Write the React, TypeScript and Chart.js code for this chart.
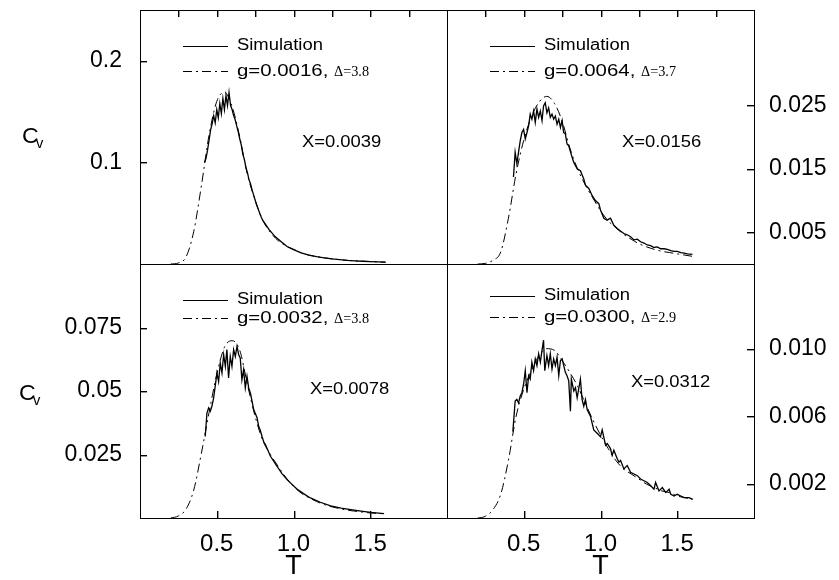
import React, { useEffect, useRef } from "react";
import { Chart, registerables } from "chart.js";

Chart.register(...registerables);
Chart.defaults.font.family = "'Liberation Sans', Arial, Helvetica, sans-serif";

// ---------------- data ----------------
const fitT = [0.2, 0.25, 0.3, 0.35, 0.4, 0.45, 0.5, 0.55, 0.6, 0.65, 0.7, 0.75, 0.8, 0.85, 0.9, 0.95, 1.0, 1.05, 1.1, 1.15, 1.2, 1.25, 1.3, 1.35, 1.4, 1.45, 1.5, 1.55, 1.6];

const fitC1 = [0, 0.001, 0.007, 0.032, 0.077, 0.127, 0.16, 0.169, 0.155, 0.125, 0.088, 0.063, 0.043, 0.031, 0.023, 0.018, 0.0145, 0.011, 0.0088, 0.0073, 0.0061, 0.0051, 0.0043, 0.0036, 0.0031, 0.0027, 0.0024, 0.0021, 0.0018];
const fitC2 = [0, 0.0001, 0.0006, 0.0019, 0.0072, 0.0142, 0.0195, 0.0232, 0.0255, 0.0264, 0.0253, 0.0225, 0.0183, 0.015, 0.0125, 0.0104, 0.0084, 0.0068, 0.0057, 0.0047, 0.0039, 0.0032, 0.0027, 0.0023, 0.002, 0.0018, 0.0016, 0.0014, 0.0012];
const fitC3 = [0, 0.0008, 0.0035, 0.011, 0.0255, 0.0415, 0.0565, 0.0672, 0.0698, 0.066, 0.0525, 0.04, 0.0305, 0.025, 0.0203, 0.016, 0.0125, 0.0098, 0.008, 0.0065, 0.0053, 0.0044, 0.0037, 0.0031, 0.0027, 0.0023, 0.002, 0.0018, 0.0016];
const fitC4 = [0, 0.0001, 0.0005, 0.0014, 0.0034, 0.006, 0.0076, 0.0087, 0.0096, 0.01, 0.0099, 0.0093, 0.0086, 0.0078, 0.0068, 0.0058, 0.0049, 0.0041, 0.0034, 0.0029, 0.0026, 0.0023, 0.002, 0.0018, 0.0016, 0.0015, 0.0013, 0.0012, 0.0011];

const simT1 = [0.42, 0.43, 0.44, 0.45, 0.46, 0.47, 0.48, 0.49, 0.5, 0.51, 0.52, 0.53, 0.54, 0.55, 0.56, 0.57, 0.58, 0.59, 0.6, 0.61, 0.62, 0.63, 0.64, 0.65, 0.66, 0.67, 0.68, 0.69, 0.7, 0.71, 0.72, 0.73, 0.74, 0.75, 0.76, 0.77, 0.78, 0.79, 0.8, 0.84, 0.88, 0.92, 0.96, 1.0, 1.05, 1.1, 1.15, 1.2, 1.25, 1.3, 1.35, 1.4, 1.45, 1.5, 1.55, 1.6];
const simC1 = [0.1, 0.104, 0.112, 0.122, 0.132, 0.138, 0.146, 0.139, 0.152, 0.144, 0.158, 0.148, 0.163, 0.152, 0.166, 0.156, 0.169, 0.156, 0.152, 0.146, 0.142, 0.136, 0.13, 0.123, 0.117, 0.108, 0.103, 0.095, 0.09, 0.083, 0.079, 0.073, 0.068, 0.063, 0.058, 0.054, 0.05, 0.046, 0.043, 0.034, 0.027, 0.022, 0.017, 0.0142, 0.011, 0.0088, 0.0073, 0.0061, 0.0051, 0.0043, 0.0036, 0.0031, 0.0027, 0.0024, 0.0021, 0.0018];

const simT2 = [0.433, 0.444, 0.455, 0.477, 0.488, 0.499, 0.51, 0.521, 0.532, 0.542, 0.553, 0.564, 0.575, 0.586, 0.597, 0.608, 0.619, 0.629, 0.64, 0.651, 0.662, 0.673, 0.684, 0.695, 0.706, 0.717, 0.728, 0.739, 0.75, 0.76, 0.771, 0.782, 0.793, 0.815, 0.826, 0.848, 0.869, 0.891, 0.902, 0.924, 0.945, 0.967, 0.989, 1.0, 1.022, 1.043, 1.065, 1.087, 1.109, 1.13, 1.152, 1.174, 1.196, 1.218, 1.24, 1.261, 1.283, 1.305, 1.327, 1.348, 1.37, 1.392, 1.414, 1.436, 1.458, 1.479, 1.501, 1.523, 1.545, 1.566, 1.599];
const simC2 = [0.0137, 0.0176, 0.0158, 0.0194, 0.0207, 0.0212, 0.0197, 0.0207, 0.0218, 0.0236, 0.0228, 0.0241, 0.0223, 0.0244, 0.0231, 0.0241, 0.0226, 0.0249, 0.0254, 0.0238, 0.0246, 0.0231, 0.0236, 0.0228, 0.0233, 0.022, 0.0228, 0.0215, 0.0226, 0.0207, 0.0205, 0.0189, 0.0186, 0.0168, 0.016, 0.015, 0.0147, 0.0134, 0.0124, 0.0119, 0.0108, 0.01, 0.0095, 0.0085, 0.0072, 0.0069, 0.0072, 0.0061, 0.0056, 0.0052, 0.0048, 0.0046, 0.0043, 0.0038, 0.0039, 0.0035, 0.0033, 0.003, 0.0029, 0.0026, 0.0027, 0.0024, 0.0024, 0.0023, 0.0021, 0.002, 0.002, 0.0018, 0.0017, 0.0016, 0.0015];

const simT3 = [0.425, 0.436, 0.447, 0.458, 0.468, 0.479, 0.49, 0.501, 0.512, 0.523, 0.534, 0.545, 0.556, 0.566, 0.577, 0.588, 0.599, 0.61, 0.621, 0.632, 0.643, 0.653, 0.664, 0.675, 0.686, 0.697, 0.708, 0.719, 0.73, 0.741, 0.752, 0.763, 0.773, 0.784, 0.795, 0.806, 0.817, 0.85, 0.893, 0.925, 0.958, 1.02, 1.065, 1.11, 1.175, 1.242, 1.31, 1.373, 1.44, 1.503, 1.59];
const simC3 = [0.0321, 0.0413, 0.0433, 0.042, 0.0439, 0.047, 0.0518, 0.0571, 0.0537, 0.061, 0.0571, 0.0643, 0.0597, 0.0663, 0.0551, 0.0636, 0.0597, 0.0663, 0.0636, 0.0676, 0.0643, 0.063, 0.0544, 0.0584, 0.0512, 0.0558, 0.0512, 0.0492, 0.046, 0.0426, 0.041, 0.0394, 0.0361, 0.0345, 0.0321, 0.03, 0.0289, 0.0243, 0.0203, 0.0175, 0.0151, 0.0115, 0.0096, 0.0079, 0.0062, 0.0048, 0.0039, 0.0033, 0.0027, 0.0022, 0.0017];

const simT4 = [0.429, 0.444, 0.455, 0.466, 0.477, 0.488, 0.499, 0.51, 0.521, 0.532, 0.542, 0.553, 0.564, 0.575, 0.586, 0.597, 0.608, 0.619, 0.629, 0.637, 0.651, 0.662, 0.673, 0.684, 0.695, 0.706, 0.717, 0.728, 0.739, 0.75, 0.771, 0.782, 0.793, 0.804, 0.81, 0.826, 0.837, 0.848, 0.869, 0.88, 0.891, 0.902, 0.913, 0.935, 0.956, 0.978, 1.0, 1.011, 1.033, 1.044, 1.065, 1.076, 1.087, 1.109, 1.12, 1.131, 1.152, 1.174, 1.196, 1.218, 1.24, 1.261, 1.283, 1.305, 1.327, 1.348, 1.359, 1.381, 1.403, 1.425, 1.447, 1.458, 1.479, 1.5, 1.523, 1.545, 1.577, 1.6];
const simC4 = [0.0051, 0.0069, 0.007, 0.0068, 0.0072, 0.0074, 0.0079, 0.0087, 0.0074, 0.0084, 0.0082, 0.0092, 0.0087, 0.0094, 0.009, 0.0097, 0.0092, 0.0099, 0.0105, 0.0087, 0.0096, 0.009, 0.0097, 0.0088, 0.0094, 0.009, 0.0095, 0.0084, 0.0093, 0.0094, 0.0086, 0.0084, 0.0081, 0.0063, 0.0082, 0.0075, 0.0077, 0.0071, 0.0082, 0.007, 0.0066, 0.007, 0.0064, 0.006, 0.0052, 0.005, 0.0048, 0.0052, 0.0043, 0.0044, 0.0041, 0.0037, 0.004, 0.0035, 0.0033, 0.0034, 0.0029, 0.0031, 0.0027, 0.0026, 0.0025, 0.0023, 0.0022, 0.0021, 0.0019, 0.0017, 0.0021, 0.0016, 0.0018, 0.0015, 0.0017, 0.0014, 0.0013, 0.0014, 0.0013, 0.0012, 0.0012, 0.0011];

const xTicks = [0.5, 1.0, 1.5];
const xTickLabels = ["0.5", "1.0", "1.5"];
const xMinorTicks = [0.25, 0.5, 0.75, 1.0, 1.25, 1.5, 1.75];

const yTicks1 = [0.1, 0.2];
const yLabels1 = ["0.1", "0.2"];
const yTicks2 = [0.005, 0.015, 0.025];
const yLabels2 = ["0.005", "0.015", "0.025"];
const yTicks3 = [0.025, 0.05, 0.075];
const yLabels3 = ["0.025", "0.05", "0.075"];
const yTicks4 = [0.002, 0.006, 0.01];
const yLabels4 = ["0.002", "0.006", "0.010"];

const simLabel = "Simulation";
const fitLabels = ["g=0.0016, ", "g=0.0064, ", "g=0.0032, ", "g=0.0300, "];
const fitDeltas = ["\u0394=3.8", "\u0394=3.7", "\u0394=3.8", "\u0394=2.9"];
const xTexts = ["X=0.0039", "X=0.0156", "X=0.0078", "X=0.0312"];
const xAxisTitle = "T";
const yAxisTitleMain = "C";
const yAxisTitleSub = "v";

// ---------------- layout ----------------
const W = 839;
const H = 580;
const SANS = "'Liberation Sans', Arial, Helvetica, sans-serif";
const SERIF = "'Liberation Serif', 'Times New Roman', serif";
const SX = 1.15;
const TICK = 7;
const TICK_W = 1.4;

type Panel = {
  simT: number[]; simC: number[]; fitC: number[];
  yMax: number; yTicks: number[]; yLabels: string[];
  fitLabel: string; fitDelta: string; xText: string;
  left: boolean; top: boolean;
  area: [number, number, number, number];
  legendDy: [number, number];
  xTextPos: [number, number];
  cv?: [number, number];
};

const panels: Panel[] = [
  { simT: simT1, simC: simC1, fitC: fitC1, yMax: 0.25, yTicks: yTicks1, yLabels: yLabels1, fitLabel: fitLabels[0], fitDelta: fitDeltas[0], xText: xTexts[0], left: true, top: true, area: [140, 10, 447, 264], legendDy: [36, 61], xTextPos: [302, 143], cv: [22, 143] },
  { simT: simT2, simC: simC2, fitC: fitC2, yMax: 0.04, yTicks: yTicks2, yLabels: yLabels2, fitLabel: fitLabels[1], fitDelta: fitDeltas[1], xText: xTexts[1], left: false, top: true, area: [447, 10, 754, 264], legendDy: [36, 61], xTextPos: [622, 143] },
  { simT: simT3, simC: simC3, fitC: fitC3, yMax: 0.1, yTicks: yTicks3, yLabels: yLabels3, fitLabel: fitLabels[2], fitDelta: fitDeltas[2], xText: xTexts[2], left: true, top: false, area: [140, 264, 447, 518], legendDy: [36, 54], xTextPos: [310, 390], cv: [19, 400] },
  { simT: simT4, simC: simC4, fitC: fitC4, yMax: 0.015, yTicks: yTicks4, yLabels: yLabels4, fitLabel: fitLabels[3], fitDelta: fitDeltas[3], xText: xTexts[3], left: false, top: false, area: [447, 264, 754, 518], legendDy: [32, 53], xTextPos: [631, 383] },
];

const DASH_DOT = [9, 4, 2, 4];

function drawText(ctx: CanvasRenderingContext2D, text: string, x: number, y: number, font: string, sx: number, baseline: CanvasTextBaseline = "middle"): number {
  ctx.save();
  ctx.font = font;
  ctx.textBaseline = baseline;
  ctx.textAlign = "left";
  ctx.fillStyle = "#000";
  ctx.translate(x, y);
  ctx.scale(sx, 1);
  ctx.fillText(text, 0, 0);
  const w = ctx.measureText(text).width * sx;
  ctx.restore();
  return w;
}

function zeroPad(s: any) {
  s.paddingLeft = 0;
  s.paddingRight = 0;
  s.paddingTop = 0;
  s.paddingBottom = 0;
}

function makeChart(canvas: HTMLCanvasElement, p: Panel, idx: number) {
  const [l, t, r, b] = p.area;
  const padding = {
    left: p.left ? 0 : l,
    right: p.left ? W - r : 0,
    top: p.top ? 0 : t,
    bottom: p.top ? H - b : 0,
  };
  const yW = p.left ? l : W - r;
  const xH = p.top ? 0 : H - b;
  const x2H = p.top ? t : 0;
  const border = { display: true, color: "#000", width: 1 };
  const noGrid = { display: false, drawTicks: false, drawOnChartArea: false };

  // inward tick marks, positioned by the chart's own scales
  const tickPlugin = {
    id: "inwardTicks" + idx,
    afterDraw(chart: any) {
      const ctx: CanvasRenderingContext2D = chart.ctx;
      const a = chart.chartArea;
      const L = Math.round(a.left);
      const R = Math.round(a.right);
      const T0 = Math.round(a.top);
      const B = Math.round(a.bottom);
      ctx.save();
      ctx.fillStyle = "#000";
      const sx = chart.scales.x;
      const sx2 = chart.scales.x2;
      const sy = chart.scales.y;
      if (!p.top) {
        for (const tk of sx.ticks) {
          const x = Math.round(sx.getPixelForValue(tk.value));
          ctx.fillRect(x, B - TICK, TICK_W, TICK);
        }
      } else {
        for (const tk of sx2.ticks) {
          const x = Math.round(sx2.getPixelForValue(tk.value));
          ctx.fillRect(x, T0, TICK_W, TICK);
        }
      }
      for (const tk of sy.ticks) {
        const y = Math.round(sy.getPixelForValue(tk.value));
        if (p.left) ctx.fillRect(L, y, TICK, TICK_W);
        else ctx.fillRect(R - TICK, y, TICK, TICK_W);
      }
      ctx.restore();
    },
  };

  const textPlugin = {
    id: "panelText" + idx,
    afterDraw(chart: any) {
      const ctx: CanvasRenderingContext2D = chart.ctx;
      const a = chart.chartArea;
      const lx0 = a.left + 43;
      const lx1 = a.left + 88;
      const tx = a.left + 97;
      const y1 = a.top + p.legendDy[0];
      const y2 = a.top + p.legendDy[1];
      ctx.save();
      ctx.strokeStyle = "#000";
      ctx.lineWidth = 1;
      ctx.setLineDash([]);
      ctx.beginPath();
      ctx.moveTo(lx0, y1 + 0.5);
      ctx.lineTo(lx1, y1 + 0.5);
      ctx.stroke();
      ctx.setLineDash(DASH_DOT);
      ctx.beginPath();
      ctx.moveTo(lx0, y2 + 0.5);
      ctx.lineTo(lx1, y2 + 0.5);
      ctx.stroke();
      ctx.restore();
      drawText(ctx, simLabel, tx, y1, `16px ${SANS}`, SX);
      const w = drawText(ctx, p.fitLabel, tx, y2, `17px ${SANS}`, 1.2);
      drawText(ctx, p.fitDelta, tx + w, y2 + 1, `15px ${SERIF}`, 0.95);
      drawText(ctx, p.xText, p.xTextPos[0], p.xTextPos[1], `16px ${SANS}`, SX);
      if (p.cv) {
        drawText(ctx, yAxisTitleMain, p.cv[0], p.cv[1], `22px ${SANS}`, 1.05, "alphabetic");
        drawText(ctx, yAxisTitleSub, p.cv[0] + 14, p.cv[1] + 5, `14px ${SANS}`, 1.05, "alphabetic");
      }
    },
  };

  return new Chart(canvas, {
    type: "line",
    data: {
      datasets: [
        {
          data: fitT.map((x, i) => ({ x, y: p.fitC[i] })),
          borderColor: "#000",
          borderWidth: 1,
          borderDash: DASH_DOT,
          pointRadius: 0,
          fill: false,
          cubicInterpolationMode: "monotone",
        },
        {
          data: p.simT.map((x, i) => ({ x, y: p.simC[i] })),
          borderColor: "#000",
          borderWidth: 1.3,
          pointRadius: 0,
          fill: false,
          tension: 0,
        },
      ],
    },
    options: {
      responsive: false,
      animation: false,
      devicePixelRatio: 1,
      events: [],
      layout: { padding },
      plugins: { legend: { display: false }, tooltip: { enabled: false } },
      scales: {
        x: {
          type: "linear",
          position: "bottom",
          min: 0,
          max: 2,
          afterBuildTicks: (s: any) => { s.ticks = xTicks.map((v) => ({ value: v })); },
          ticks: {
            display: !p.top,
            callback: (_v: any, i: number) => xTickLabels[i],
            padding: 12,
            maxRotation: 0,
            autoSkip: false,
            color: "#000",
            font: { size: 24 },
          },
          grid: noGrid,
          border,
          title: { display: !p.top, text: xAxisTitle, color: "#000", font: { size: 27, lineHeight: 1 }, padding: 0 },
          afterFit: (s: any) => { s.height = xH; zeroPad(s); },
        },
        x2: {
          type: "linear",
          axis: "x",
          position: "top",
          min: 0,
          max: 2,
          afterBuildTicks: (s: any) => { s.ticks = xMinorTicks.map((v) => ({ value: v })); },
          ticks: { display: false },
          grid: noGrid,
          border,
          afterFit: (s: any) => { s.height = x2H; zeroPad(s); },
        },
        y: {
          type: "linear",
          position: p.left ? "left" : "right",
          min: 0,
          max: p.yMax,
          afterBuildTicks: (s: any) => { s.ticks = p.yTicks.map((v) => ({ value: v })); },
          ticks: {
            callback: (_v: any, i: number) => p.yLabels[i],
            padding: p.left ? 18 : 15,
            autoSkip: false,
            color: "#000",
            font: { size: 23 },
          },
          grid: noGrid,
          border,
          afterFit: (s: any) => { s.width = yW; zeroPad(s); },
        },
        y2: {
          type: "linear",
          axis: "y",
          position: p.left ? "right" : "left",
          min: 0,
          max: p.yMax,
          ticks: { display: false },
          grid: noGrid,
          border,
          afterFit: (s: any) => { s.width = 0; zeroPad(s); },
        },
      },
    } as any,
    plugins: [tickPlugin, textPlugin],
  } as any);
}

export default function App() {
  const refs = useRef<(HTMLCanvasElement | null)[]>([]);

  useEffect(() => {
    const charts = panels.map((p, i) => makeChart(refs.current[i] as HTMLCanvasElement, p, i));
    return () => charts.forEach((c) => c.destroy());
  }, []);

  return (
    <div style={{ position: "absolute", left: 0, top: 0, width: W, height: H, background: "#fff", overflow: "hidden" }}>
      {panels.map((_, i) => (
        <canvas
          key={i}
          ref={(el) => { refs.current[i] = el; }}
          width={W}
          height={H}
          style={{ position: "absolute", left: 0, top: 0, width: W, height: H }}
        />
      ))}
    </div>
  );
}
